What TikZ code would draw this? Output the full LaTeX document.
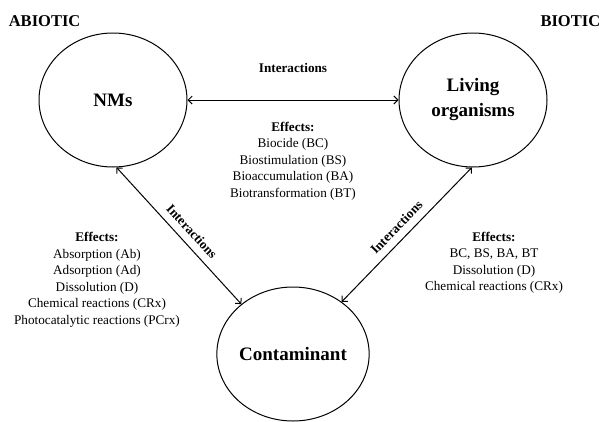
\documentclass[tikz,border=0pt]{standalone}
\usepackage{fontspec}
\setmainfont{Liberation Serif}
\usetikzlibrary{arrows.meta,positioning,shapes.geometric}

\begin{document}
\begin{tikzpicture}[x=1pt, y=-1pt,
  entity/.style={draw, ellipse, line width=1pt, inner sep=0pt, minimum width=148pt, minimum height=134pt, align=center, font=\fontsize{19}{25}\selectfont\bfseries},
  side/.style={font=\fontsize{16.5}{20}\selectfont\bfseries},
  lbl/.style={font=\fontsize{13.2}{16}\selectfont\bfseries},
  effects/.style={align=center, font=\fontsize{13.2}{16.5}\selectfont},
  >={Straight Barb[length=4pt,width=8pt]}, line width=1pt]
\useasboundingbox (0,0) rectangle (605,421);
\node[side, anchor=west] (abio) at (5,21) {ABIOTIC};
\node[side, anchor=east] (bio) at (604,21) {BIOTIC};
\node[entity] (nms) at (113,100) {NMs};
\node[entity] (liv) at (473,100) {Living\\organisms};
\node[entity] (cont) at (293,354) {Contaminant};
\draw[<->] (nms) -- node[lbl, above=24pt] (intTop) {Interactions} (liv);
\draw[<->] (nms.-87) -- node[lbl, sloped, above=4pt, pos=0.53] (intLeft) {Interactions} (cont.136);
\draw[<->] (cont.47) -- node[lbl, sloped, above=4pt, pos=0.49] (intRight) {Interactions} (liv.-91);
\node[effects] (effMid) at (293,161) {\textbf{Effects:}\\Biocide (BC)\\Biostimulation (BS)\\Bioaccumulation (BA)\\Biotransformation (BT)};
\node[effects] (effLeft) at (97,280) {\textbf{Effects:}\\Absorption (Ab)\\Adsorption (Ad)\\Dissolution (D)\\Chemical reactions (CRx)\\Photocatalytic reactions (PCrx)};
\node[effects] (effRight) at (494,263) {\textbf{Effects:}\\BC, BS, BA, BT\\Dissolution (D)\\Chemical reactions (CRx)};
\end{tikzpicture}
\end{document}
